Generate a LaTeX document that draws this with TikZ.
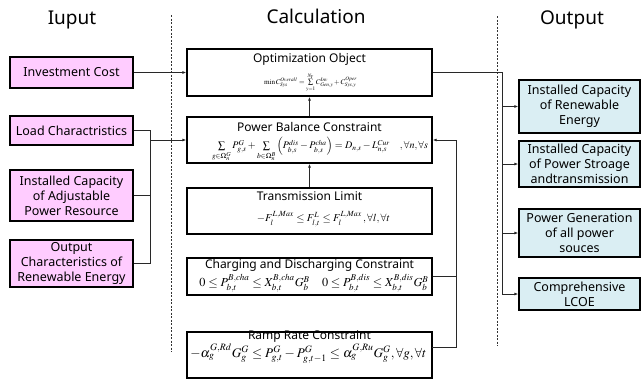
\documentclass[tikz,border=0pt]{standalone}
\usepackage{mathptmx}
\usepackage{graphicx}
\usepackage{fontspec}
\setmainfont{Noto Sans}
\usetikzlibrary{arrows.meta}
\definecolor{inpink}{RGB}{255,204,255}
\definecolor{outblue}{RGB}{218,238,243}
\definecolor{wire}{RGB}{40,40,40}
\tikzset{
  box/.style={draw=black,line width=1.3pt,inner sep=1pt,align=center,
    font=\fontsize{12.5}{15}\selectfont},
  inbox/.style={box,fill=inpink,minimum width=123pt},
  outbox/.style={box,fill=outblue,minimum width=121pt},
  calcbox/.style={box,fill=white,minimum width=245pt},
  heading/.style={font=\fontsize{19}{22}\selectfont},
  ctitle/.style={font=\fontsize{12}{14}\selectfont,inner sep=0pt},
  wireline/.style={draw=wire,line width=0.9pt},
  arr/.style={wireline,-{Latex[length=4pt,width=3pt]}},
  divider/.style={draw=black!80,line width=0.7pt,dash pattern=on 2pt off 1.5pt}
}
\begin{document}
\begin{tikzpicture}[x=1pt,y=-1pt]
\useasboundingbox[fill=white] (0,0) rectangle (641,383);

% column headings
\node[heading] (hin) at (72,20) {Iuput};
\node[heading] (hcalc) at (316,16) {Calculation};
\node[heading] (hout) at (572,20) {Output};

% column dividers
\coordinate (d1a) at (171,15);
\coordinate (d1b) at (171,352);
\coordinate (d2a) at (497,16);
\coordinate (d2b) at (497,346);
\draw[divider] (d1a) -- (d1b);
\draw[divider] (d2a) -- (d2b);

% input boxes
\node[inbox,minimum height=31pt] (inv) at (71.5,72.5) {Investment Cost};
\node[inbox,minimum height=29pt] (load) at (71.5,130.5) {Load Charactristics};
\node[inbox,minimum height=51pt] (adj) at (71.5,195.5) {Installed Capacity\\of Adjustable\\Power Resource};
\node[inbox,minimum height=47pt] (outc) at (71.5,263.5) {Output\\Characteristics of\\Renewable Energy};

% calculation boxes
\node[calcbox,minimum height=47pt] (opt) at (309.5,72.5) {};
\node[calcbox,minimum height=46pt] (pb) at (309.5,140) {};
\node[calcbox,minimum height=46pt] (tl) at (309.5,211) {};
\node[calcbox,minimum height=37pt] (cd) at (309.5,276.5) {};
\node[calcbox,minimum height=46pt] (rr) at (309.5,355) {};

\node[ctitle] (optt) at (309.5,59) {Optimization Object};
\node[inner sep=0pt] (optf) at (310.5,83) {\resizebox{93pt}{!}{$\min C^{Overall}_{Sys}=\sum\limits_{y=1}^{N_Y} C^{Inv}_{Gen,y}+C^{Oper}_{Sys,y}$}};

\node[ctitle] (pbt) at (309.5,127) {Power Balance Constraint};
\node[inner sep=0pt] (pbf) at (320,149.5) {\resizebox{216pt}{!}{$\sum\limits_{g\in\Omega_n^G} P^G_{g,s}+\sum\limits_{b\in\Omega_n^B}\left(P^{dis}_{b,s}-P^{cha}_{b,s}\right)=D_{n,s}-L^{Cur}_{n,s}\quad,\forall n,\forall s$}};

\node[ctitle] (tlt) at (309.5,196) {Transmission Limit};
\node[inner sep=0pt] (tlf) at (323.5,219) {\resizebox{133pt}{!}{$-F_l^{L,Max}\le F^L_{l,t}\le F_l^{L,Max}\,,\forall l,\forall t$}};

\node[ctitle] (cdt) at (309.5,265) {Charging and Discharging Constraint};
\node[inner sep=0pt] (cdf) at (314,283.5) {\resizebox{229pt}{!}{$0\le P^{B,cha}_{b,t}\le X^{B,cha}_{b,t}G^B_b\quad 0\le P^{B,dis}_{b,t}\le X^{B,dis}_{b,t}G^B_b$}};

\node[ctitle] (rrt) at (309.5,337) {Ramp Rate Constraint};
\node[inner sep=0pt] (rrf) at (308.5,353.5) {\resizebox{236pt}{!}{$-\alpha_g^{G,Rd}G^G_g\le P^G_{g,t}-P^G_{g,t-1}\le\alpha_g^{G,Ru}G^G_g,\forall g,\forall t$}};

% output boxes
\node[outbox,minimum height=53pt] (ren) at (579.5,106.5) {Installed Capacity\\of Renewable\\Energy};
\node[outbox,minimum height=46pt] (sto) at (579.5,164) {Installed Capacity\\of Power Stroage\\andtransmission};
\node[outbox,minimum height=48pt] (gen) at (579.5,233) {Power Generation\\of all power\\souces};
\node[outbox,minimum height=32pt] (lcoe) at (579.5,294) {Comprehensive\\LCOE};

% inputs feeding the calculation
\draw[arr] (inv.east) -- (opt.west);
\coordinate (jt) at (150,130.5);
\coordinate (jb) at (150,263.5);
\coordinate (ja) at (150,140);
\draw[wireline] (load.east) -- (jt) -- (jb) -- (outc.east);
\draw[wireline] (adj.east) -- (adj.east -| jt);
\draw[arr] (ja) -- (pb.west);

% constraint chain
\draw[arr] (tl.north) -- (pb.south);
\draw[arr] (pb.north) -- (opt.south);

\coordinate (rc) at (456,140);
\coordinate (rb) at (456,347);
\coordinate (rre) at (432,347);
\draw[wireline] (cd.east) -- (cd.east -| rc);
\draw[wireline] (rre) -- (rb) -- (rc);
\draw[arr] (rc) -- (pb.east);

% results
\coordinate (ot) at (502,72.5);
\coordinate (ob) at (502,294);
\draw[wireline] (opt.east) -- (ot) -- (ob);
\draw[arr] (ren.west -| ot) -- (ren.west);
\draw[arr] (sto.west -| ot) -- (sto.west);
\draw[arr] (gen.west -| ot) -- (gen.west);
\draw[arr] (ob) -- (lcoe.west);
\end{tikzpicture}
\end{document}
